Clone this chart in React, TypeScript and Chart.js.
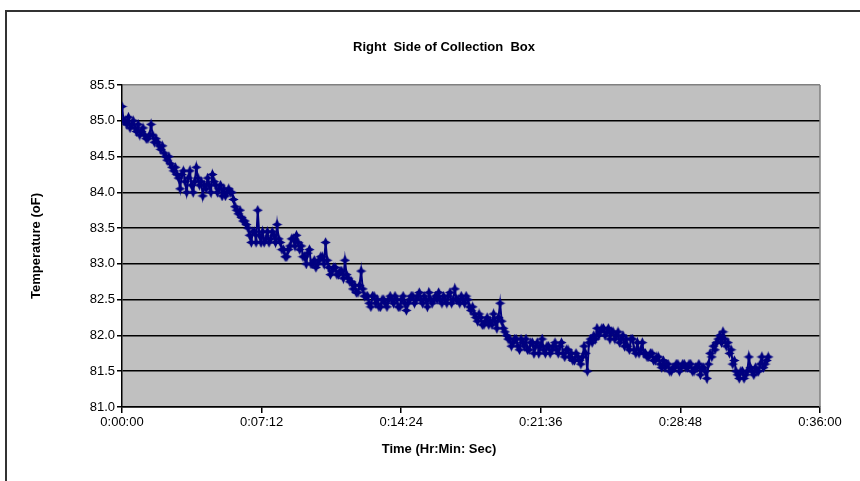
import React, { useEffect, useRef } from "react";
import { Chart, registerables } from "chart.js";
Chart.register(...registerables);

const chartTitle = "Right  Side of Collection  Box";
const xAxisTitle = "Time (Hr:Min: Sec)";
const yAxisTitle = "Temperature (oF)";
const sampleIntervalSec = 5;
const xTickLabels = ["0:00:00", "0:07:12", "0:14:24", "0:21:36", "0:28:48", "0:36:00"];
const xTickStepSec = 432;
const xMaxSec = 2160;
const yMin = 81.0;
const yMax = 85.5;
const yStep = 0.5;

const temperatures = [
  85.2, 85.0, 85.0, 84.95, 85.05, 84.9, 84.95, 85.0, 84.9, 84.85,
  84.95, 84.8, 84.85, 84.9, 84.8, 84.75, 84.75, 84.8, 84.95, 84.8,
  84.7, 84.75, 84.7, 84.65, 84.6, 84.65, 84.55, 84.5, 84.45, 84.5,
  84.4, 84.35, 84.3, 84.35, 84.25, 84.2, 84.05, 84.25, 84.3, 84.15,
  84.0, 84.2, 84.3, 84.1, 84.0, 84.15, 84.35, 84.2, 84.1, 84.15,
  83.95, 84.1, 84.05, 84.2, 84.1, 84.0, 84.25, 84.15, 84.1, 84.0,
  84.05, 84.1, 83.95, 84.05, 83.95, 84.0, 84.05, 84.0, 84.0, 83.9,
  83.8, 83.75, 83.7, 83.75, 83.65, 83.6, 83.6, 83.55, 83.5, 83.4,
  83.3, 83.45, 83.45, 83.3, 83.75, 83.4, 83.3, 83.45, 83.3, 83.35,
  83.45, 83.3, 83.35, 83.45, 83.4, 83.3, 83.55, 83.35, 83.3, 83.2,
  83.2, 83.1, 83.1, 83.2, 83.25, 83.35, 83.35, 83.25, 83.4, 83.3,
  83.2, 83.25, 83.1, 83.1, 83.0, 83.15, 83.2, 83.0, 83.0, 83.05,
  82.95, 83.0, 83.05, 83.1, 83.1, 83.0, 83.3, 83.05, 82.95, 82.85,
  82.9, 82.95, 82.95, 82.85, 82.85, 82.9, 82.9, 82.8, 83.05, 82.85,
  82.8, 82.75, 82.75, 82.65, 82.7, 82.6, 82.6, 82.7, 82.9, 82.65,
  82.55, 82.55, 82.55, 82.45, 82.4, 82.55, 82.55, 82.45, 82.5, 82.4,
  82.4, 82.5, 82.5, 82.45, 82.4, 82.5, 82.55, 82.5, 82.45, 82.55,
  82.5, 82.4, 82.4, 82.5, 82.55, 82.45, 82.35, 82.45, 82.5, 82.55,
  82.55, 82.45, 82.5, 82.55, 82.6, 82.5, 82.45, 82.55, 82.5, 82.4,
  82.6, 82.5, 82.45, 82.5, 82.55, 82.5, 82.6, 82.5, 82.45, 82.55,
  82.5, 82.45, 82.55, 82.6, 82.45, 82.5, 82.65, 82.5, 82.5, 82.45,
  82.55, 82.5, 82.45, 82.55, 82.5, 82.4, 82.35, 82.4, 82.3, 82.25,
  82.2, 82.3, 82.25, 82.15, 82.15, 82.2, 82.25, 82.15, 82.2, 82.15,
  82.3, 82.2, 82.1, 82.25, 82.45, 82.2, 82.1, 82.05, 82.0, 81.95,
  81.95, 81.85, 81.9, 81.95, 81.95, 81.85, 81.8, 81.95, 81.9, 81.85,
  81.95, 81.8, 81.8, 81.9, 81.9, 81.75, 81.85, 81.9, 81.75, 81.85,
  81.95, 81.8, 81.75, 81.85, 81.85, 81.75, 81.8, 81.85, 81.9, 81.8,
  81.75, 81.85, 81.9, 81.75, 81.7, 81.8, 81.8, 81.7, 81.75, 81.65,
  81.65, 81.75, 81.7, 81.65, 81.6, 81.7, 81.85, 81.75, 81.5, 81.9,
  81.95, 81.9, 82.0, 81.95, 82.1, 82.0, 82.05, 82.1, 82.1, 82.0,
  82.05, 82.1, 81.95, 82.05, 82.05, 81.95, 82.0, 82.05, 81.9, 81.95,
  82.0, 81.85, 81.95, 81.85, 81.8, 81.95, 81.95, 81.8, 81.75, 81.9,
  81.75, 81.8, 81.9, 81.75, 81.75, 81.7, 81.7, 81.75, 81.75, 81.65,
  81.65, 81.7, 81.7, 81.6, 81.55, 81.65, 81.55, 81.6, 81.6, 81.5,
  81.5, 81.55, 81.55, 81.6, 81.6, 81.5, 81.55, 81.6, 81.6, 81.55,
  81.55, 81.6, 81.6, 81.5, 81.5, 81.55, 81.55, 81.6, 81.45, 81.55,
  81.55, 81.5, 81.4, 81.6, 81.75, 81.7, 81.85, 81.8, 81.9, 81.95,
  82.0, 81.9, 82.05, 81.95, 81.85, 81.9, 81.75, 81.8, 81.6, 81.65,
  81.5, 81.45, 81.4, 81.5, 81.5, 81.4, 81.45, 81.5, 81.7, 81.55,
  81.5, 81.45, 81.55, 81.5, 81.5, 81.6, 81.7, 81.55, 81.6, 81.65,
  81.7,
];

const FONT = "'Liberation Sans', Arial, sans-serif";
const NAVY = "#000080";

function makeStar(): HTMLCanvasElement {
  const c = document.createElement("canvas");
  const s = 11;
  c.width = s;
  c.height = s;
  const g = c.getContext("2d")!;
  const m = s / 2;
  const r = 5.2;
  const k = 1.8;
  g.fillStyle = NAVY;
  g.beginPath();
  g.moveTo(m, m - r);
  g.lineTo(m + k, m - k);
  g.lineTo(m + r, m);
  g.lineTo(m + k, m + k);
  g.lineTo(m, m + r);
  g.lineTo(m - k, m + k);
  g.lineTo(m - r, m);
  g.lineTo(m - k, m - k);
  g.closePath();
  g.fill();
  return c;
}

const decorPlugin = {
  id: "decor",
  beforeDraw(chart: any) {
    const { ctx, chartArea: a } = chart;
    ctx.save();
    ctx.fillStyle = "#c0c0c0";
    ctx.fillRect(a.left, a.top, a.right - a.left, a.bottom - a.top);
    ctx.restore();
  },
  afterDraw(chart: any) {
    const { ctx, chartArea: a } = chart;
    ctx.save();
    ctx.strokeStyle = "#808080";
    ctx.lineWidth = 1.5;
    ctx.beginPath();
    ctx.moveTo(a.right, a.top);
    ctx.lineTo(a.right, a.bottom);
    ctx.stroke();
    ctx.strokeStyle = "#333";
    ctx.lineWidth = 2;
    ctx.strokeRect(6, 11, 1000, 1000);
    ctx.fillStyle = "#000";
    ctx.textAlign = "center";
    ctx.textBaseline = "middle";
    ctx.font = `bold 13px ${FONT}`;
    ctx.fillText(chartTitle, 444, 47);
    ctx.fillText(xAxisTitle, 439, 449);
    ctx.restore();
  },
};

export default function App() {
  const ref = useRef<HTMLCanvasElement>(null);
  useEffect(() => {
    if (!ref.current) return;
    const points = temperatures.map((v, i) => ({ x: i * sampleIntervalSec, y: v }));
    const chart = new Chart(ref.current, {
      type: "line",
      data: {
        datasets: [
          {
            data: points,
            borderColor: NAVY,
            backgroundColor: NAVY,
            borderWidth: 2,
            pointStyle: makeStar() as any,
            pointRadius: 5,
            tension: 0,
          },
        ],
      },
      options: {
        animation: false,
        responsive: false,
        layout: { padding: { left: 0, right: 40, top: 85, bottom: 0 } },
        plugins: { legend: { display: false }, tooltip: { enabled: false }, title: { display: false } },
        scales: {
          x: {
            type: "linear",
            min: 0,
            max: xMaxSec,
            afterFit: (s: any) => {
              s.height = 74;
            },
            border: { color: "#000", width: 1.5 },
            grid: { drawOnChartArea: false, drawTicks: true, tickLength: 6, color: "#000", lineWidth: 1.5 },
            ticks: {
              stepSize: xTickStepSec,
              autoSkip: false,
              maxRotation: 0,
              padding: 2,
              color: "#000",
              font: { family: FONT, size: 13 },
              callback: (_v: any, i: number) => xTickLabels[i],
            },
          },
          y: {
            min: yMin,
            max: yMax,
            afterFit: (s: any) => {
              s.width = 122;
            },
            border: { color: "#000", width: 1.5 },
            grid: {
              color: (c: any) => (c.tick && c.tick.value === yMax ? "#808080" : "#000"),
              tickColor: "#000",
              lineWidth: 1.5,
              tickLength: 5,
            },
            ticks: {
              stepSize: yStep,
              padding: 2,
              color: "#000",
              font: { family: FONT, size: 13 },
              callback: (v: any) => Number(v).toFixed(1),
            },
            title: {
              display: true,
              text: yAxisTitle,
              color: "#000",
              font: { family: FONT, size: 13, weight: "bold" },
              padding: { top: 29, bottom: 0 },
            },
          },
        },
      },
      plugins: [decorPlugin],
    });
    return () => chart.destroy();
  }, []);
  return (
    <div style={{ position: "absolute", left: 0, top: 0, width: 860, height: 481 }}>
      <canvas ref={ref} width={860} height={481} style={{ display: "block" }} />
    </div>
  );
}
